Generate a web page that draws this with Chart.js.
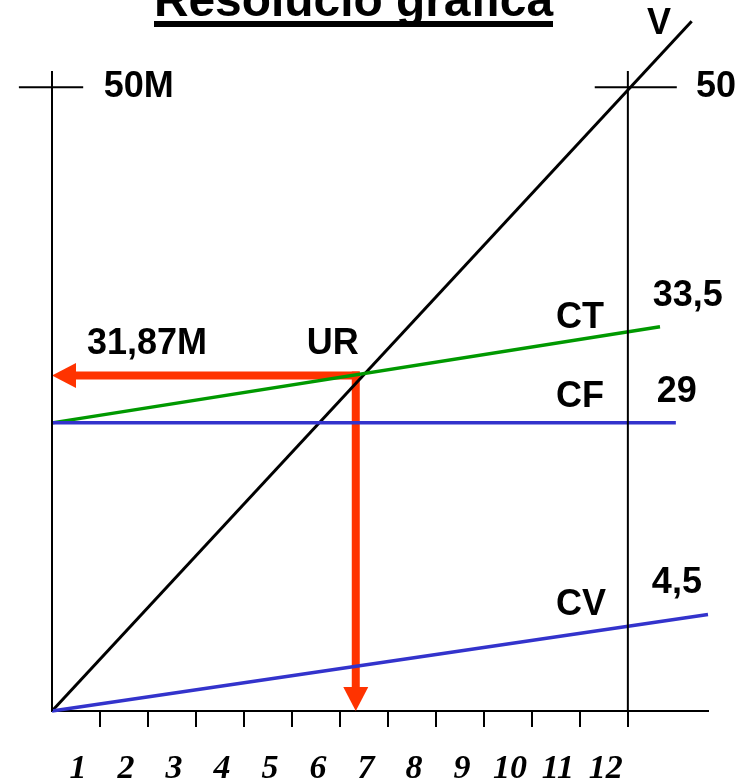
<!DOCTYPE html>
<html>
<head>
<meta charset="utf-8">
<script src="https://cdn.jsdelivr.net/npm/chart.js@4.4.0/dist/chart.umd.min.js"></script>
<style>
  html, body { margin: 0; padding: 0; background: #fff; }
  #wrap { width: 742px; height: 781px; position: relative; }
</style>
</head>
<body>
<div id="wrap"><canvas id="puntMort"></canvas></div>
<script>
// eix X (unitats)
const xTicks = [1, 2, 3, 4, 5, 6, 7, 8, 9, 10, 11, 12];
const xTickLabels = ['1', '2', '3', '4', '5', '6', '7', '8', '9', '10', '11', '12'];

// rectes llegides del dibuix (x, y)
const vX = [0, 13.33];
const vY = [0, 55.3];
const ctX = [0, 12.67];
const ctY = [23.1, 30.8];
const cfX = [0, 13.0];
const cfY = [23.1, 23.1];
const cvX = [0, 13.67];
const cvY = [0, 7.73];

// punt mort
const urX = 6.33;
const urY = 26.9;

// marca de 50 a les 12 unitats
const topValue = 50;
const topUnit = 12;
const axisTop = 51.3;
const xMax = 13.67;
const yMax = 57;

const title = 'Resolució gràfica';

// textos sobre el gràfic (posició en unitats de l'eix)
const notes = [
  { text: 'V', x: 12.65, y: 55.1, align: 'center' },
  { text: '50M', x: 1.08, y: 50, align: 'left' },
  { text: '50', x: 13.42, y: 50, align: 'left' },
  { text: '31,87M', x: 0.73, y: 29.4, align: 'left' },
  { text: 'UR', x: 5.31, y: 29.4, align: 'left' },
  { text: 'CT', x: 10.5, y: 31.5, align: 'left' },
  { text: '33,5', x: 12.52, y: 33.27, align: 'left' },
  { text: 'CF', x: 10.5, y: 25.18, align: 'left' },
  { text: '29', x: 12.6, y: 25.58, align: 'left' },
  { text: 'CV', x: 10.5, y: 8.49, align: 'left' },
  { text: '4,5', x: 12.5, y: 10.29, align: 'left' }
];

function pts(xs, ys) {
  return xs.map((x, i) => ({ x: x, y: ys[i] }));
}

function line(data, color, width) {
  return {
    data: data,
    showLine: true,
    borderColor: color,
    borderWidth: width,
    pointRadius: 0,
    pointHoverRadius: 0,
    tension: 0,
    clip: false
  };
}

function arrow(data) {
  return {
    data: data,
    showLine: false,
    pointRadius: 0,
    pointHoverRadius: 0,
    arrow: true,
    clip: false
  };
}

const RED = 'rgb(255,51,0)';
const GREEN = 'rgb(0,153,0)';
const BLUE = 'rgb(51,51,204)';

// fletxes vermelles (per sota de les rectes)
const arrowPlugin = {
  id: 'arrows',
  beforeDatasetsDraw(chart) {
    const ctx = chart.ctx;
    chart.data.datasets.forEach((ds, i) => {
      if (!ds.arrow) return;
      const meta = chart.getDatasetMeta(i);
      const a = meta.data[0], b = meta.data[1];
      const dx = b.x - a.x, dy = b.y - a.y;
      const len = Math.sqrt(dx * dx + dy * dy);
      const ux = dx / len, uy = dy / len;
      const head = 24, half = 12.5;
      ctx.save();
      ctx.strokeStyle = RED;
      ctx.fillStyle = RED;
      ctx.lineWidth = 8;
      ctx.lineCap = 'square';
      ctx.beginPath();
      ctx.moveTo(a.x, a.y);
      ctx.lineTo(b.x - ux * head, b.y - uy * head);
      ctx.stroke();
      ctx.beginPath();
      ctx.moveTo(b.x, b.y);
      ctx.lineTo(b.x - ux * head - uy * half, b.y - uy * head + ux * half);
      ctx.lineTo(b.x - ux * head + uy * half, b.y - uy * head - ux * half);
      ctx.closePath();
      ctx.fill();
      ctx.restore();
    });
  }
};

const textPlugin = {
  id: 'texts',
  afterDraw(chart) {
    const ctx = chart.ctx;
    const sx = chart.scales.x, sy = chart.scales.y;
    ctx.save();
    ctx.fillStyle = '#000';
    ctx.textBaseline = 'middle';
    ctx.font = 'bold 36px "Liberation Sans", Arial, sans-serif';
    notes.forEach(n => {
      ctx.textAlign = n.align;
      ctx.fillText(n.text, sx.getPixelForValue(n.x), sy.getPixelForValue(n.y));
    });

    // títol (tallat per dalt) i subratllat
    ctx.font = 'bold 48px "Liberation Sans", Arial, sans-serif';
    const w = ctx.measureText(title).width;
    const size = 48 * 399 / w;
    ctx.font = 'bold ' + size.toFixed(1) + 'px "Liberation Sans", Arial, sans-serif';
    ctx.textAlign = 'center';
    ctx.textBaseline = 'alphabetic';
    ctx.fillText(title, 353.5, 16);
    ctx.fillRect(154, 21, 399, 6);
    ctx.restore();
  }
};

new Chart(document.getElementById('puntMort'), {
  type: 'scatter',
  data: {
    datasets: [
      arrow([{ x: urX, y: urY }, { x: 0, y: urY }]),
      arrow([{ x: urX, y: urY }, { x: urX, y: 0 }]),
      line(pts([0, 0], [0, axisTop]), '#000', 2),
      line(pts([topUnit, topUnit], [0, axisTop]), '#000', 2),
      line(pts([-0.69, 0.65], [topValue, topValue]), '#000', 2),
      line(pts([11.31, 13.02], [topValue, topValue]), '#000', 2),
      line(pts(cvX, cvY), BLUE, 3.5),
      line(pts(cfX, cfY), BLUE, 3.5),
      line(pts(ctX, ctY), GREEN, 3.5),
      line(pts(vX, vY), '#000', 3)
    ]
  },
  options: {
    responsive: true,
    maintainAspectRatio: false,
    animation: false,
    events: [],
    layout: { padding: { left: 52, right: 34, top: 0, bottom: 0 } },
    plugins: {
      legend: { display: false },
      tooltip: { enabled: false }
    },
    scales: {
      x: {
        type: 'linear',
        min: 0,
        max: xMax,
        afterBuildTicks: s => { s.ticks = xTicks.map(v => ({ value: v })); },
        afterFit: s => { s.height = 70; },
        border: { display: true, color: '#000', width: 2 },
        grid: {
          display: true,
          drawOnChartArea: false,
          drawTicks: true,
          tickLength: 16,
          color: '#000',
          lineWidth: 2
        },
        ticks: {
          autoSkip: false,
          maxRotation: 0,
          labelOffset: -22,
          padding: 22,
          color: '#000',
          font: { family: '"Liberation Serif", "Times New Roman", serif', size: 34, style: 'italic', weight: 'bold' },
          callback: (value, index) => xTickLabels[index]
        }
      },
      y: {
        type: 'linear',
        display: false,
        min: 0,
        max: yMax
      }
    }
  },
  plugins: [arrowPlugin, textPlugin]
});
</script>
</body>
</html>
